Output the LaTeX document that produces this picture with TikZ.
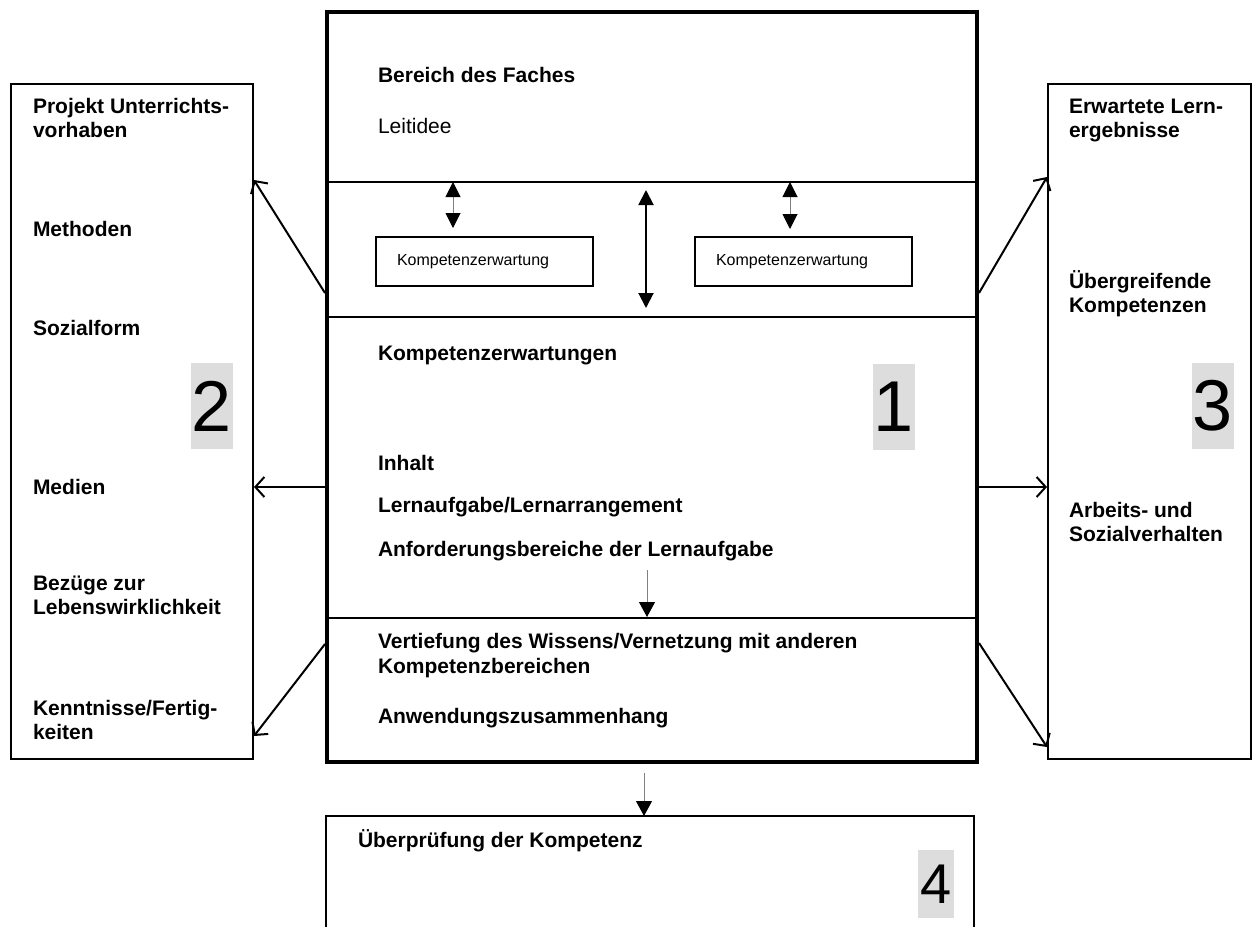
\documentclass[tikz,border=0pt]{standalone}
\usepackage{fontspec}
\setmainfont{Liberation Sans}
\usetikzlibrary{calc}
\usetikzlibrary{arrows.meta}

\definecolor{numgray}{HTML}{DDDDDD}

\begin{document}
\begin{tikzpicture} [x=1pt, y=-1pt, line width=2pt,
  lbl/.style={anchor=base west, inner sep=0pt, font=\fontsize{21}{25}\selectfont\bfseries},
  num/.style={fill=numgray, inner sep=0pt, minimum width=42, minimum height=86, font=\fontsize{72}{72}\selectfont},
  kwbox/.style={draw, anchor=north west, inner xsep=21pt, inner ysep=0pt, text width=175pt, minimum height=49pt, align=left, font=\fontsize{16}{19}\selectfont},
  open/.style={-{Straight Barb[length=9pt, width=20pt]}},
  small/.style={gray, line width=1pt}]
\useasboundingbox (0,0) rectangle (1258,927);

% the three columns
\node (fach) [draw, line width=4pt, inner sep=0pt, minimum width=650, minimum height=750, anchor=north west] at (325,10) {};
\node (plan) [draw, inner sep=0pt, minimum width=242, minimum height=675, anchor=north west] at (10,83) {};
\node (ziel) [draw, inner sep=0pt, minimum width=203, minimum height=675, anchor=north west] at (1047,83) {};

\draw (fach.west |- 0,182) -- (fach.east |- 0,182);
\draw (fach.west |- 0,317) -- (fach.east |- 0,317);
\draw (fach.west |- 0,618) -- (fach.east |- 0,618);

% box 4, open at the bottom
\coordinate (pr-a) at (326,927);
\coordinate (pr-b) at (974,927);
\coordinate (pruef) at (644,816);
\draw (pr-a) |- (pruef) -| (pr-b);

% texts of the middle column
\node (t1) [lbl] at (377,82) {Bereich des Faches};
\node (t2) [lbl, font=\fontsize{21}{25}\selectfont] at (377,133) {Leitidee};
\node (t3) [lbl] at (377,360) {Kompetenzerwartungen};
\node (t4) [lbl] at (377,470) {Inhalt};
\node (t5) [lbl] at (377,512) {Lernaufgabe/Lernarrangement};
\node (t6) [lbl] at (377,556) {Anforderungsbereiche der Lernaufgabe};
\node (t7) [lbl] at (377,648) {Vertiefung des Wissens/Vernetzung mit anderen};
\node (t8) [lbl] at (377,673) {Kompetenzbereichen};
\node (t9) [lbl] at (377,723) {Anwendungszusammenhang};
\node (t10) [lbl] at (357,847) {Überprüfung der Kompetenz};

\foreach \ty/\txt [count=\i] in {113/Projekt Unterrichts-, 137/vorhaben, 236/Methoden, 335/Sozialform, 494/Medien, 590/Bezüge zur, 614/Lebenswirklichkeit, 715/{Kenntnisse/Fertig-}, 739/keiten}
\node (l\i) [lbl] at (32,\ty) {\txt};

\foreach \ty/\txt [count=\i] in {113/Erwartete Lern-, 137/ergebnisse, 288/Übergreifende, 312/Kompetenzen, 517/Arbeits- und, 541/Sozialverhalten}
\node (r\i) [lbl] at (1068,\ty) {\txt};

% numbers
\node (n1) [num] at (894,407) {1};
\node (n2) [num] at (212,406) {2};
\node (n3) [num] at (1213,406) {3};
\node (n4) [num, minimum width=36, minimum height=68, font=\fontsize{56}{56}\selectfont] at (936,884) {4};

% Kompetenzerwartung boxes
\node (kw1) [kwbox] at (375,236) {Kompetenzerwartung};
\node (kw2) [kwbox] at (694,236) {Kompetenzerwartung};

\coordinate (a1) at (453,182);
\coordinate (a2) at (453,228);
\coordinate (b1) at (790,182);
\coordinate (b2) at (790,229);
\coordinate (c1) at (646,190);
\coordinate (c2) at (646,308);
\draw[small, {Triangle[black, length=15pt, width=15pt]}-{Triangle[black, length=15pt, width=15pt]}] (a1) -- (a2);
\draw[small, {Triangle[black, length=15pt, width=15pt]}-{Triangle[black, length=15pt, width=15pt]}] (b1) -- (b2);
\draw[{Triangle[length=15pt, width=15pt]}-{Triangle[length=15pt, width=15pt]}] (c1) -- (c2);

% downward arrows
\coordinate (d1) at (647,570);
\coordinate (d2) at (647,617);
\coordinate (e1) at (644,773);
\draw[small, -{Triangle[black, length=15pt, width=16pt]}] (d1) -- (d2);
\draw[small, -{Triangle[black, length=15pt, width=16pt]}] (e1) -- (pruef);

% arrows to the side columns
\draw[open] (fach.west |- 0,293) -- (plan.east |- 0,180);
\draw[open] (fach.west |- 0,487) -- (plan.east |- 0,487);
\draw[open] (fach.west |- 0,644) -- (plan.east |- 0,736);
\draw[open] (fach.east |- 0,293) -- (ziel.west |- 0,177);
\draw[open] (fach.east |- 0,487) -- (ziel.west |- 0,487);
\draw[open] (fach.east |- 0,643) -- (ziel.west |- 0,747);

\end{tikzpicture}
\end{document}
